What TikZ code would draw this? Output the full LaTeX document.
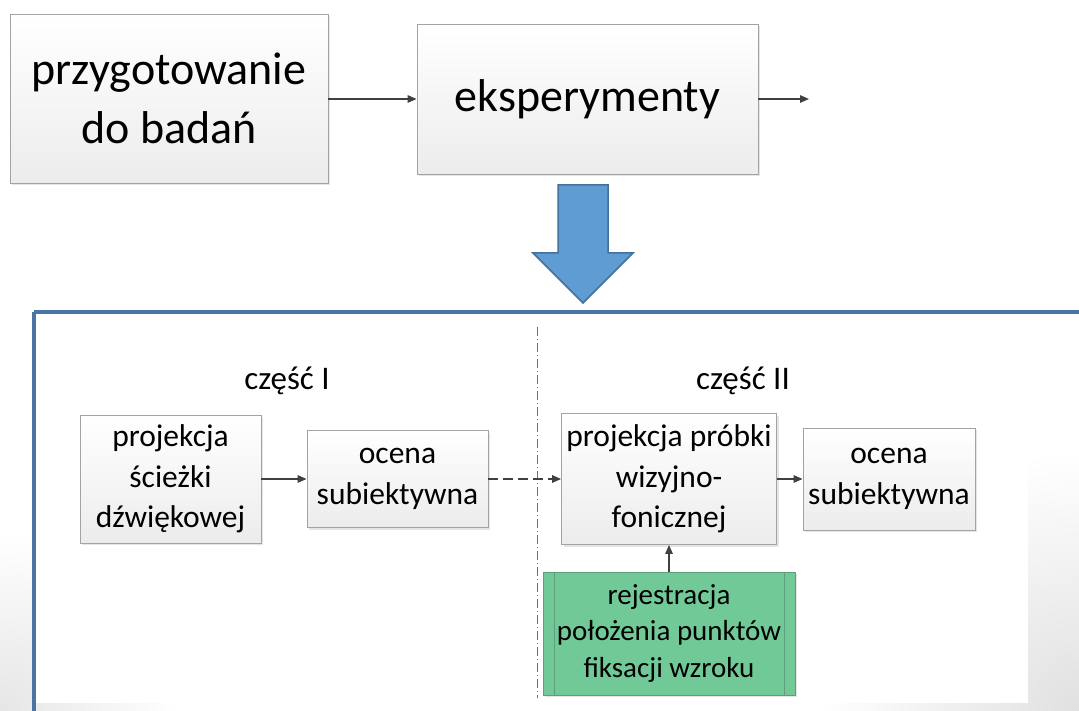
\documentclass[tikz,border=0pt]{standalone}
\usepackage{fontspec}
\setmainfont{Carlito}
\usetikzlibrary{arrows.meta,shadows}
\definecolor{boxborder}{HTML}{A3A3A3}
\definecolor{boxbottom}{HTML}{ECECEC}
\definecolor{arrowgray}{HTML}{404040}
\definecolor{bigblue}{HTML}{4A74A3}
\definecolor{arrowfill}{HTML}{5F9CD2}
\definecolor{arrowedge}{HTML}{41719C}
\definecolor{greenfill}{HTML}{71C998}
\definecolor{greenedge}{HTML}{5E9E7A}
\definecolor{dashgray}{HTML}{6E6E6E}
\tikzset{
  boxstyle/.style={draw=boxborder, line width=0.9pt, top color=white, bottom color=boxbottom,
    drop shadow={shadow xshift=2pt, shadow yshift=-2pt, fill=black, opacity=0.1},
    align=center, inner sep=0pt, text=black},
  bigtext/.style={font=\fontsize{46}{59}\selectfont},
  midtext/.style={font=\fontsize{31.5}{40.5}\selectfont},
  greentext/.style={font=\fontsize{29}{36.5}\selectfont},
  parttext/.style={font=\fontsize{33}{40}\selectfont},
  conn/.style={draw=arrowgray, line width=1.4pt, -{Triangle[length=9pt,width=7.5pt]}},
  dconn/.style={conn, dash pattern=on 10pt off 5pt},
}
\begin{document}
\begin{tikzpicture}[x=1pt,y=-1pt]
\useasboundingbox (0,0) rectangle (1079,711);
\fill[white] (0,0) rectangle (1079,711);
\begin{scope}
\clip (0,0) rectangle (1079,711);
\shade[inner color=black!12, outer color=white] (1079,711) circle (260pt);
\shade[inner color=black!10, outer color=white] (0,711) circle (180pt);
\fill[white] (36,314) rectangle (1028,703);
\end{scope}
\draw[bigblue, line width=4pt] (34,312) -- (1100,312) (34,312) -- (34,730);

% top row
\node[boxstyle, bigtext, minimum width=318pt, minimum height=169pt] (prep) at (169,98.5) {przygotowanie\\do badań};
\node[boxstyle, bigtext, minimum width=341pt, minimum height=150pt] (exp) at (587.5,99) {eksperymenty};
\coordinate (outend) at (809,99);
\draw[conn] (prep.east |- exp.west) -- (exp.west);
\draw[conn] (exp.east) -- (outend);

% blue block arrow
\filldraw[fill=arrowfill, draw=arrowedge, line width=1.5pt, line join=miter]
  (558,185) -- (608,185) -- (608,253) -- (633,253) -- (583,303) -- (533,253) -- (558,253) -- cycle;

% separator
\coordinate (septop) at (537,327);
\coordinate (sepbot) at (537,698);
\draw[dashgray, line width=0.8pt, dash pattern=on 9pt off 3pt on 1pt off 3pt] (septop) -- (sepbot);

\node[parttext] (p1) at (287,381) {część I};
\node[parttext] (p2) at (743,381) {część II};

\node[boxstyle, midtext, minimum width=181pt, minimum height=128pt] (A) at (170.5,479) {projekcja\\ścieżki\\dźwiękowej};
\node[boxstyle, midtext, minimum width=181pt, minimum height=97pt] (B) at (397.5,479) {ocena\\subiektywna};
\node[boxstyle, midtext, minimum width=215pt, minimum height=131pt] (C) at (669,479) {projekcja próbki\\wizyjno-\\fonicznej};
\node[boxstyle, midtext, minimum width=172pt, minimum height=102pt] (D) at (889,479) {ocena\\subiektywna};
\node[draw=greenedge, fill=greenfill, line width=0.9pt, greentext, align=center, inner sep=0pt,
      minimum width=252pt, minimum height=123pt,
      drop shadow={shadow xshift=2pt, shadow yshift=-2pt, fill=black, opacity=0.1}] (E) at (669,633.5)
      {rejestracja\\położenia punktów\\fiksacji wzroku};
\draw[greenedge, line width=0.9pt] ([xshift=11.5pt]E.north west) -- ([xshift=11.5pt]E.south west);
\draw[greenedge, line width=0.9pt] ([xshift=-11.5pt]E.north east) -- ([xshift=-11.5pt]E.south east);

\draw[conn] (A) -- (B);
\draw[dconn] (B) -- (C);
\draw[conn] (C) -- (D);
\draw[conn] (E) -- (C);
\end{tikzpicture}
\end{document}
